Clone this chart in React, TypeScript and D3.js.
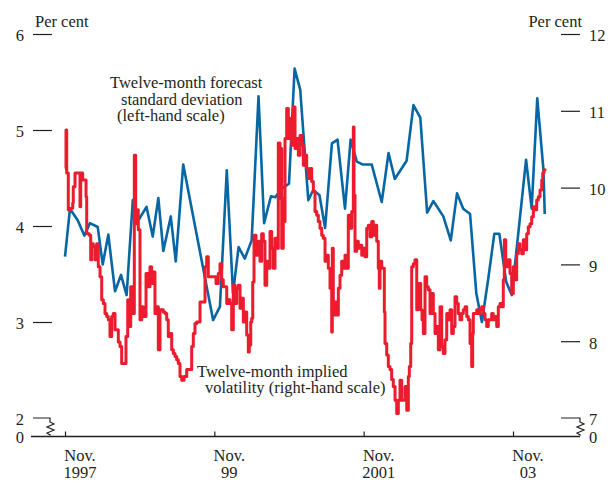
import { useEffect, useRef } from 'react';
import * as d3 from 'd3';

// months since Nov. 1997, per cent (left-hand scale)
const forecastSd: [number, number][] = [
  [0, 3.68], [0.8, 4.18], [2.04, 4.06], [3.1, 3.9], [4.0, 4.03], [5.26, 3.99],
  [6.06, 3.6], [6.96, 3.91], [8.04, 3.32], [9.0, 3.49], [9.9, 3.28], [10.9, 4.27],
  [11.9, 4.07], [13.1, 4.2], [14.1, 3.89], [15.0, 4.29], [15.8, 3.74], [17.0, 4.1],
  [17.8, 3.63], [19.0, 4.64], [23.8, 3.02], [24.9, 3.16], [26.0, 4.58], [27.0, 3.3],
  [27.9, 3.78], [28.9, 3.66], [30.0, 3.85], [31.1, 5.35], [32.0, 4.03], [33.1, 4.31],
  [33.8, 4.3], [34.8, 4.39], [36.0, 4.44], [36.9, 5.64], [37.8, 5.42], [39.1, 4.27],
  [39.9, 4.375], [40.9, 4.32], [41.8, 3.98], [42.9, 4.86], [43.8, 4.9], [45.0, 4.18],
  [45.9, 4.9], [46.9, 4.67], [47.9, 4.64], [49.3, 4.64], [50.9, 4.25], [52.0, 4.76],
  [53.0, 4.49], [54.9, 4.68], [56.0, 5.26], [57.1, 5.13], [58.2, 4.14], [59.2, 4.26],
  [60.8, 4.1], [62.0, 3.85], [63.0, 4.34], [64.0, 4.18], [65.1, 4.125], [66.1, 3.3],
  [67.0, 3.0], [68.0, 3.44], [69.0, 3.92], [69.8, 3.92], [70.9, 3.42], [71.8, 3.28],
  [74.1, 4.69], [75.0, 4.18], [75.9, 5.33], [76.9, 4.58], [77.1, 4.125],
];

// months since Nov. 1997, per cent (right-hand scale)
const impliedVol: [number, number][] = [
  [0, 10.25], [0.16, 10.75], [0.27, 10.19], [0.53, 9.71], [0.92, 9.73], [1.24, 9.8],
  [1.33, 10.01], [1.61, 10.19], [1.98, 10.19], [2.3, 10.19], [2.41, 9.75], [2.52, 10.19],
  [2.84, 10.1], [3.21, 10.1], [3.38, 9.88], [3.49, 9.4], [3.91, 9.38], [4.13, 9.06],
  [4.29, 9.27], [4.55, 9.23], [4.82, 9.06], [5.09, 9.27], [5.35, 8.97], [5.63, 8.84],
  [5.9, 8.54], [6.16, 8.49], [6.43, 8.36], [6.7, 8.32], [6.96, 8.28], [7.23, 8.06],
  [7.51, 8.32], [7.76, 8.36], [8.04, 8.15], [8.31, 8.15], [8.57, 7.99], [8.84, 7.93],
  [9.11, 7.71], [9.64, 7.71], [9.8, 8.06], [10.08, 8.54], [10.33, 8.19], [10.56, 8.71],
  [10.88, 8.36], [11.14, 10.42], [11.36, 9.53], [11.52, 9.71], [11.78, 9.45], [12.05, 8.28],
  [12.33, 8.45], [12.58, 8.32], [13.02, 8.88], [13.23, 8.88], [13.39, 8.71], [13.66, 8.97],
  [13.93, 8.75], [14.19, 8.9], [14.46, 8.36], [14.74, 8.45], [15.0, 7.89], [15.27, 8.41],
  [15.54, 8.41], [15.8, 8.38], [16.07, 8.36], [16.35, 8.28], [16.6, 8.06], [16.88, 8.1],
  [17.15, 7.89], [17.41, 7.84], [17.68, 7.8], [17.95, 7.76], [18.21, 7.71], [18.48, 7.54],
  [18.76, 7.49], [19.13, 7.54], [19.56, 7.63], [20.09, 7.63], [20.36, 7.93], [20.62, 8.1],
  [20.89, 8.23], [21.17, 8.25], [21.7, 8.51], [22.23, 8.51], [22.5, 8.97], [22.77, 9.1],
  [23.03, 8.84], [23.42, 8.84], [23.83, 8.84], [24.27, 8.75], [24.64, 8.88], [24.91, 9.01],
  [25.18, 8.8], [25.44, 8.71], [25.72, 8.71], [25.99, 8.49], [26.25, 8.54], [26.52, 8.49],
  [26.79, 8.15], [27.05, 8.73], [27.32, 8.49], [27.6, 8.69], [27.85, 8.73], [28.13, 8.43],
  [28.4, 8.56], [28.66, 8.25], [28.93, 8.38], [29.2, 8.08], [29.46, 7.86], [29.62, 7.95],
  [29.85, 8.25], [30.01, 8.3], [30.17, 8.77], [30.38, 9.38], [30.7, 9.12], [31.07, 9.3],
  [31.34, 9.04], [31.61, 9.4], [31.87, 9.3], [32.14, 8.73], [32.42, 9.04], [32.67, 8.95],
  [32.95, 9.43], [33.22, 9.21], [33.48, 8.95], [33.75, 9.34], [34.02, 9.21], [34.28, 10.58],
  [34.55, 9.86], [34.66, 10.51], [34.83, 9.21], [35.08, 9.86], [35.25, 9.56], [35.36, 10.64],
  [35.63, 11.03], [35.89, 10.64], [36.16, 10.9], [36.44, 10.55], [36.69, 11.05], [36.97, 10.51],
  [37.24, 10.64], [37.5, 10.42], [37.77, 10.68], [38.04, 10.55], [38.3, 10.29], [38.57, 10.42],
  [38.84, 10.25], [39.1, 10.12], [39.38, 10.25], [39.65, 10.08], [39.91, 9.95], [40.18, 9.69],
  [40.45, 9.64], [40.71, 9.56], [40.98, 9.47], [41.26, 9.38], [41.51, 9.34], [41.79, 9.04],
  [42.06, 9.12], [42.32, 8.95], [42.59, 8.69], [42.86, 8.12], [42.96, 9.21], [43.12, 8.34],
  [43.39, 8.51], [43.67, 8.34], [43.93, 8.69], [44.2, 8.86], [44.47, 9.04], [44.73, 8.95],
  [45.0, 9.12], [45.28, 8.95], [45.53, 9.64], [45.81, 9.47], [46.08, 9.69], [46.34, 10.79],
  [46.45, 9.9], [46.61, 9.17], [46.88, 9.3], [47.14, 9.21], [47.41, 9.25], [47.69, 9.12],
  [47.94, 9.21], [48.22, 9.1], [48.49, 9.47], [48.75, 9.51], [49.02, 9.36], [49.29, 9.56],
  [49.55, 9.38], [49.82, 9.51], [50.1, 9.3], [50.35, 8.95], [50.51, 8.69], [50.63, 9.04],
  [50.9, 8.95], [51.16, 8.95], [51.32, 8.38], [51.43, 7.97], [51.7, 7.82], [51.96, 7.67],
  [52.23, 7.63], [52.5, 7.5], [52.76, 7.41], [53.04, 7.23], [53.31, 7.06], [53.57, 7.23],
  [53.84, 7.49], [54.11, 7.23], [54.37, 7.23], [54.65, 7.41], [54.92, 7.1], [55.18, 7.54],
  [55.34, 7.67], [55.56, 7.97], [55.72, 8.97], [55.98, 9.01], [56.25, 9.06], [56.53, 8.41],
  [56.78, 8.75], [56.94, 8.75], [57.17, 8.41], [57.38, 8.28], [57.59, 8.1], [57.86, 8.84],
  [58.13, 8.71], [58.39, 8.67], [58.66, 8.36], [58.93, 8.62], [59.19, 8.36], [59.47, 8.1],
  [59.74, 8.19], [60.0, 7.89], [60.27, 8.45], [60.54, 7.93], [60.8, 7.84], [61.07, 8.02],
  [61.35, 8.36], [61.6, 8.28], [61.88, 8.41], [62.15, 8.1], [62.41, 8.19], [62.68, 8.58],
  [62.95, 8.49], [63.21, 8.36], [63.48, 8.28], [63.76, 8.36], [64.01, 8.41], [64.29, 8.45],
  [64.56, 8.32], [64.82, 8.28], [65.09, 7.97], [65.36, 7.67], [65.52, 8.1], [65.62, 8.36],
  [65.89, 8.36], [66.17, 8.41], [66.42, 8.36], [66.7, 8.41], [66.97, 8.45], [67.23, 8.36],
  [67.5, 8.28], [67.77, 8.19], [68.03, 8.28], [68.3, 8.28], [68.57, 8.36], [68.83, 8.28],
  [69.11, 8.32], [69.38, 8.19], [69.64, 8.45], [69.91, 8.49], [70.18, 8.45], [70.44, 8.8],
  [70.61, 9.32], [70.83, 9.06], [70.99, 8.97], [71.25, 9.06], [71.52, 8.88], [71.79, 8.62],
  [72.05, 8.97], [72.32, 8.8], [72.59, 9.14], [72.85, 9.27], [73.13, 9.19], [73.4, 9.14],
  [73.66, 9.32], [73.93, 9.19], [74.2, 9.4], [74.46, 9.49], [74.74, 9.53], [75.01, 9.62],
  [75.27, 9.75], [75.54, 9.71], [75.81, 9.84], [76.07, 9.88], [76.34, 9.97], [76.62, 10.1],
  [76.78, 10.19], [76.97, 10.23], [77.13, 10.25],
];

const leftTicks = [3, 4, 5, 6];
const rightTicks = [8, 9, 10, 11, 12];
const xTickMonths = [0, 24, 48, 72];
const xTickMonthLabel = ['Nov.', 'Nov.', 'Nov.', 'Nov.'];
const xTickYearLabel = ['1997', '99', '2001', '03'];

const FONT = '"Liberation Serif", "Times New Roman", serif';
const BLUE = '#0766a4';
const RED = '#ec1b2e';
const INK = '#231f20';

const App = () => {
  const ref = useRef<SVGSVGElement>(null);

  const width = 609;
  const height = 483;
  const baseY = 436.5;

  useEffect(() => {
    const svg = d3.select(ref.current);
    svg.selectAll('*').remove();

    const x = d3.scaleLinear().domain([0, 72]).range([65, 513]);
    const yLeft = d3.scaleLinear().domain([2, 6]).range([418, 34]);
    const yRight = d3.scaleLinear().domain([7, 12]).range([418, 34]);

    // left-hand scale
    const leftAxis = d3.axisLeft(yLeft).tickValues(leftTicks).tickFormat(d3.format('d'))
      .tickSize(19).tickPadding(9);
    const gl = svg.append('g').attr('transform', 'translate(52,0)').call(leftAxis);
    gl.select('.domain').remove();
    gl.attr('font-family', FONT).attr('font-size', 16.5);
    gl.selectAll('line').attr('stroke', INK).attr('stroke-width', 1.2);
    gl.selectAll('text').attr('fill', INK).attr('dy', '0.42em');

    // right-hand scale
    const rightAxis = d3.axisRight(yRight).tickValues(rightTicks).tickFormat(d3.format('d'))
      .tickSize(19).tickPadding(9);
    const gr = svg.append('g').attr('transform', 'translate(561,0)').call(rightAxis);
    gr.select('.domain').remove();
    gr.attr('font-family', FONT).attr('font-size', 16.5);
    gr.selectAll('line').attr('stroke', INK).attr('stroke-width', 1.2);
    gr.selectAll('text').attr('fill', INK).attr('dy', '0.42em');

    // broken-axis markers
    const yl2 = yLeft(2);
    const yr7 = yRight(7);
    svg.append('path')
      .attr('d', `M33,${yl2}H50V${yl2 + 4}l4,2l-7,3l7,3l-7,3l3,2V${yl2 + 16}`)
      .attr('fill', 'none').attr('stroke', INK).attr('stroke-width', 1.2);
    svg.append('path')
      .attr('d', `M561,${yr7}H580V${yr7 + 4}l4,2l-7,3l7,3l-7,3l3,2V${yr7 + 16}`)
      .attr('fill', 'none').attr('stroke', INK).attr('stroke-width', 1.2);

    const txtStyle = (t: any) => t.attr('font-family', FONT).attr('font-size', 16.5).attr('fill', INK);
    svg.append('text').attr('x', 24).attr('y', yl2).attr('dy', '0.42em').attr('text-anchor', 'end').text('2').call(txtStyle);
    svg.append('text').attr('x', 24).attr('y', baseY).attr('dy', '0.42em').attr('text-anchor', 'end').text('0').call(txtStyle);
    svg.append('text').attr('x', 589).attr('y', yr7).attr('dy', '0.42em').text('7').call(txtStyle);
    svg.append('text').attr('x', 589).attr('y', baseY).attr('dy', '0.42em').text('0').call(txtStyle);

    svg.append('text').attr('x', 35).attr('y', 27).text('Per cent').call(txtStyle);
    svg.append('text').attr('x', 582).attr('y', 27).attr('text-anchor', 'end').text('Per cent').call(txtStyle);

    // x axis
    svg.append('line')
      .attr('x1', 31).attr('x2', 580).attr('y1', baseY).attr('y2', baseY)
      .attr('stroke', INK).attr('stroke-width', 1.5);
    const xAxis = d3.axisBottom(x).tickValues(xTickMonths).tickSize(-5).tickFormat(() => '');
    const gx = svg.append('g').attr('transform', `translate(0,${baseY})`).call(xAxis);
    gx.select('.domain').remove();
    gx.selectAll('line').attr('stroke', INK).attr('stroke-width', 1.2);

    xTickMonths.forEach((m, i) => {
      const lx = x(m) + 15;
      svg.append('text').attr('x', lx).attr('y', 461).attr('text-anchor', 'middle')
        .text(xTickMonthLabel[i]).call(txtStyle);
      svg.append('text').attr('x', lx).attr('y', 478).attr('text-anchor', 'middle')
        .text(xTickYearLabel[i]).call(txtStyle);
    });

    // series
    const blueLine = d3.line<[number, number]>()
      .x((d) => x(d[0]))
      .y((d) => yLeft(d[1]));
    const redLine = d3.line<[number, number]>()
      .x((d) => x(d[0]))
      .y((d) => yRight(d[1]))
      .curve(d3.curveStepAfter);

    svg.append('path')
      .datum(forecastSd)
      .attr('d', blueLine)
      .attr('fill', 'none')
      .attr('stroke', BLUE)
      .attr('stroke-width', 2.6)
      .attr('stroke-linejoin', 'round');

    svg.append('path')
      .datum(impliedVol)
      .attr('d', redLine)
      .attr('fill', 'none')
      .attr('stroke', RED)
      .attr('stroke-width', 3)
      .attr('stroke-linejoin', 'round');

    // annotations
    const note1 = [
      { t: 'Twelve-month forecast', x: 110, y: 87.5 },
      { t: 'standard deviation', x: 121, y: 104.5 },
      { t: '(left-hand scale)', x: 117, y: 120.5 },
    ];
    const note2 = [
      { t: 'Twelve-month implied', x: 197, y: 376.5 },
      { t: 'volatility (right-hand scale)', x: 205, y: 393 },
    ];
    [...note1, ...note2].forEach((n) => {
      svg.append('text').attr('x', n.x).attr('y', n.y).text(n.t).call(txtStyle);
    });
  }, []);

  return (
    <svg
      ref={ref}
      width={width}
      height={height}
      viewBox={`0 0 ${width} ${height}`}
      style={{ position: 'absolute', left: 0, top: 0, background: '#fff' }}
    />
  );
};

export default App;
